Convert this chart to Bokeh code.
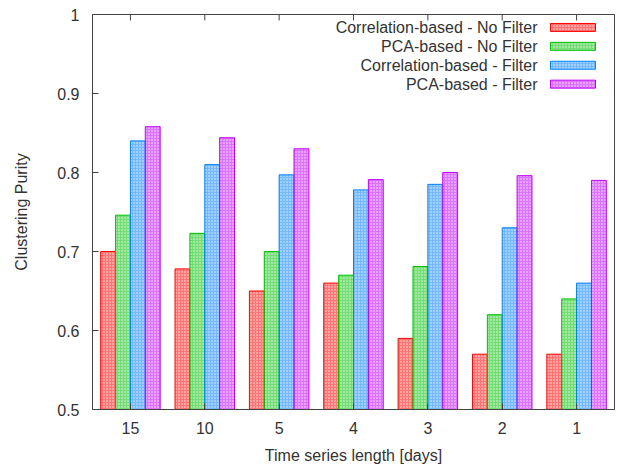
from bokeh.plotting import figure
from bokeh.models import Range1d, FixedTicker, Label, BoxAnnotation
from bokeh.embed import file_html
from bokeh.resources import INLINE

categories = ["15", "10", "5", "4", "3", "2", "1"]
series_names = ["Correlation-based - No Filter", "PCA-based - No Filter",
                "Correlation-based - Filter", "PCA-based - Filter"]
corr_nofilter = [0.700, 0.678, 0.650, 0.660, 0.590, 0.570, 0.570]
pca_nofilter = [0.746, 0.723, 0.700, 0.670, 0.681, 0.620, 0.640]
corr_filter = [0.840, 0.810, 0.797, 0.778, 0.785, 0.730, 0.660]
pca_filter = [0.858, 0.844, 0.830, 0.791, 0.800, 0.796, 0.790]
series_values = [corr_nofilter, pca_nofilter, corr_filter, pca_filter]
colors = ["#ff0000", "#00c000", "#0080ff", "#c000ff"]
yticks = [0.5, 0.6, 0.7, 0.8, 0.9, 1.0]
ytick_labels = ["0.5", "0.6", "0.7", "0.8", "0.9", "1"]

W, H = 618, 466
FL, FR, FT, FB = 92, 614, 14, 411
XMIN, XMAX = -0.51, 6.51
YMIN, YMAX = 0.5, 1.0
FONT = "Liberation Sans"
FS = "16px"
TXT = "#333333"
AX = "#444444"

p = figure(width=W, height=H, output_backend="svg", toolbar_location=None,
           x_range=Range1d(XMIN, XMAX), y_range=Range1d(YMIN, YMAX),
           min_border_left=FL, min_border_right=W - FR,
           min_border_top=FT, min_border_bottom=H - FB)
p.grid.visible = False
p.outline_line_color = AX
p.background_fill_color = "white"
p.border_fill_color = "white"

def px_to_x(px):
    return XMIN + (px - FL) / (FR - FL) * (XMAX - XMIN)

def px_to_y(py):
    return YMAX - (py - FT) / (FB - FT) * (YMAX - YMIN)

bw = 0.2
xs = list(range(len(categories)))
for i, (vals, col) in enumerate(zip(series_values, colors)):
    off = (i - 1.5) * bw
    p.vbar(x=[x + off for x in xs], top=vals, bottom=YMIN, width=bw,
           fill_color=col, fill_alpha=0.55, line_color=col, line_width=1,
           hatch_pattern="dot", hatch_color="white", hatch_alpha=0.85,
           hatch_scale=3, hatch_weight=1)

# axes
for ax in [p.xaxis[0], p.yaxis[0]]:
    ax.axis_line_color = AX
    ax.major_tick_line_color = AX
    ax.major_tick_in = 6
    ax.major_tick_out = 0
    ax.minor_tick_in = 0
    ax.minor_tick_out = 0
    ax.major_label_text_font = FONT
    ax.major_label_text_font_size = FS
    ax.major_label_text_color = TXT
    ax.axis_label_text_font = FONT
    ax.axis_label_text_font_size = FS
    ax.axis_label_text_font_style = "normal"
    ax.axis_label_text_color = TXT

p.xaxis.ticker = FixedTicker(ticks=xs)
p.xaxis.major_label_overrides = {x: c for x, c in zip(xs, categories)}
p.xaxis.axis_label = "Time series length [days]"
p.xaxis.major_label_standoff = 12
p.xaxis.axis_label_standoff = 10

p.yaxis.ticker = FixedTicker(ticks=yticks)
p.yaxis.major_label_overrides = {t: l for t, l in zip(yticks, ytick_labels)}
p.yaxis.axis_label = "Clustering Purity"
p.yaxis.major_label_standoff = 13
p.yaxis.axis_label_standoff = 24

# mirrored x ticks on the top border
tick_len = YMAX - px_to_y(FT + 6)
p.segment(x0=xs, y0=[YMAX] * len(xs), x1=xs, y1=[YMAX - tick_len] * len(xs),
          line_color=AX, line_width=1)

# legend (gnuplot style: text right-aligned, swatch on the right)
row_py = [27, 46, 65, 84]
for name, col, py in zip(series_names, colors, row_py):
    p.add_layout(Label(x=px_to_x(537), y=px_to_y(py), text=name,
                       text_align="right", text_baseline="middle",
                       text_font=FONT, text_font_size=FS, text_color=TXT))
    p.add_layout(BoxAnnotation(left=px_to_x(550), right=px_to_x(595),
                               top=px_to_y(py - 4), bottom=px_to_y(py + 4),
                               fill_color=col, fill_alpha=0.55, line_color=col,
                               line_alpha=1, line_width=1,
                               hatch_pattern="dot", hatch_color="white",
                               hatch_alpha=0.85, hatch_scale=3, hatch_weight=1))

open("out.html", "w").write(file_html(p, INLINE))
